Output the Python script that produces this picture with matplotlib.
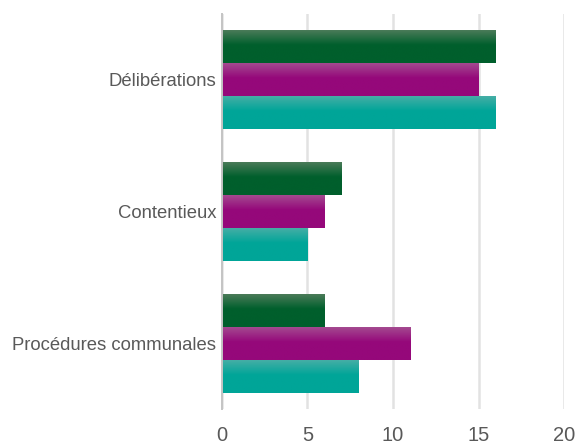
import matplotlib
matplotlib.use("Agg")
import matplotlib.pyplot as plt
import matplotlib.colors as mcolors
import numpy as np

categories = ["Délibérations", "Contentieux", "Procédures communales"]
serie_verte = [16, 7, 6]
serie_violette = [15, 6, 11]
serie_turquoise = [16, 5, 8]
xticks = [0, 5, 10, 15, 20]

# (top colour, solid colour) for each series, top to bottom in a group
couleurs = [("#4a7b59", "#005f2c"), ("#a44a90", "#95087a"), ("#45aea6", "#00a598")]

plt.rcParams['font.family'] = ['Liberation Sans', 'DejaVu Sans']

fig = plt.figure(figsize=(5.77, 4.41), dpi=100)
ax = fig.add_axes([0.3847, 0.0726, 0.5928, 0.8957])

n = len(categories)
centres = np.arange(n)[::-1].astype(float)
h = 0.25
series = [serie_verte, serie_violette, serie_turquoise]
offsets = [h, 0, -h]


def degrade(c_top, c_solid, rows=100):
    a = np.array(mcolors.to_rgba(c_top))
    b = np.array(mcolors.to_rgba(c_solid))
    t = np.clip(np.linspace(0, 1, rows) / 0.45, 0, 1)[:, None]
    img = a * (1 - t) + b * t
    return img[:, None, :]


for vals, off, (ctop, csolid) in zip(series, offsets, couleurs):
    bars = ax.barh(centres + off, vals, height=h, color=csolid, linewidth=0, zorder=2)
    for r in bars:
        x0, y0 = r.get_x(), r.get_y()
        ax.imshow(degrade(ctop, csolid), extent=(x0, x0 + r.get_width(), y0, y0 + r.get_height()),
                  aspect='auto', origin='upper', zorder=3, interpolation='bilinear')

ax.set_xlim(0, 20)
ax.set_ylim(-0.5, n - 0.5)
ax.set_xticks(xticks)
ax.set_xticklabels([str(v) for v in xticks])
ax.set_yticks(centres)
ax.set_yticklabels(categories)
ax.grid(axis='x', color='#e2e2e2', linewidth=1.8, zorder=0)
ax.set_axisbelow(True)
for s in ['top', 'right', 'bottom']:
    ax.spines[s].set_visible(False)
ax.spines['left'].set_color('#c4c4c4')
ax.spines['left'].set_linewidth(1.4)
ax.spines['left'].set_zorder(4)
ax.tick_params(axis='y', length=0, pad=4, labelsize=13.3, labelcolor='#595959')
ax.tick_params(axis='x', length=0, pad=12, labelsize=14.5, labelcolor='#595959')

plt.savefig("out.png", dpi=100)
plt.close()
